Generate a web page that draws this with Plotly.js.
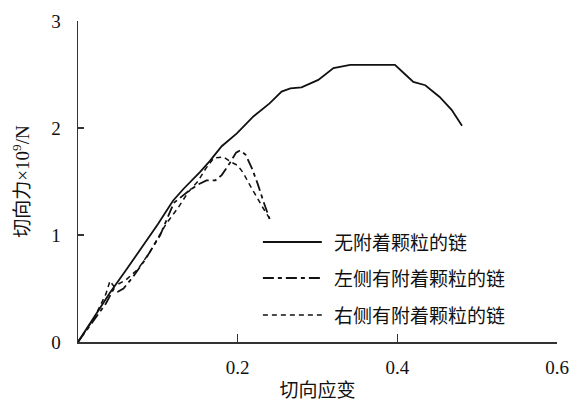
<!DOCTYPE html>
<html>
<head>
<meta charset="utf-8">
<script src="https://cdn.plot.ly/plotly-3.0.1.min.js"></script>
<style>html,body{margin:0;padding:0;background:#fff;}#chart{width:572px;height:401px;}</style>
</head>
<body>
<div id="chart"></div>
<script>
// Series names
const seriesNames = ["无附着颗粒的链", "左侧有附着颗粒的链", "右侧有附着颗粒的链"];

// 无附着颗粒的链 (solid)
const strainA = [0, 0.02, 0.04, 0.06, 0.08, 0.10, 0.119, 0.132, 0.153, 0.165, 0.180, 0.199, 0.220, 0.240, 0.255, 0.266, 0.280, 0.301, 0.320, 0.341, 0.360, 0.380, 0.397, 0.410, 0.420, 0.435, 0.453, 0.468, 0.481];
const forceA  = [0, 0.23, 0.46, 0.67, 0.88, 1.10, 1.32, 1.43, 1.59, 1.69, 1.83, 1.95, 2.11, 2.23, 2.34, 2.37, 2.38, 2.45, 2.56, 2.59, 2.59, 2.59, 2.59, 2.50, 2.43, 2.40, 2.29, 2.17, 2.02];

// 左侧有附着颗粒的链 (dash-dot)
const strainB = [0, 0.02, 0.035, 0.045, 0.050, 0.057, 0.068, 0.085, 0.103, 0.120, 0.140, 0.150, 0.161, 0.172, 0.180, 0.190, 0.198, 0.203, 0.210, 0.218, 0.225, 0.232, 0.240];
const forceB  = [0, 0.20, 0.36, 0.50, 0.47, 0.50, 0.60, 0.78, 1.00, 1.30, 1.42, 1.47, 1.51, 1.51, 1.56, 1.67, 1.77, 1.79, 1.75, 1.62, 1.48, 1.32, 1.15];

// 右侧有附着颗粒的链 (short dash)
const strainC = [0, 0.02, 0.035, 0.040, 0.045, 0.060, 0.075, 0.090, 0.110, 0.125, 0.138, 0.150, 0.160, 0.170, 0.182, 0.192, 0.200, 0.207, 0.215, 0.224, 0.232, 0.242];
const forceC  = [0, 0.22, 0.45, 0.57, 0.52, 0.58, 0.68, 0.84, 1.10, 1.25, 1.40, 1.50, 1.62, 1.72, 1.73, 1.68, 1.65, 1.58, 1.47, 1.35, 1.25, 1.13];

// Axis ticks
const xTickVals = [0.2, 0.4, 0.6];
const xTickText = ["0.2", "0.4", "0.6"];
const yTickVals = [0, 1, 2, 3];
const yTickText = ["0", "1", "2", "3"];

const FONT = "'Liberation Serif', 'Times New Roman', 'Noto Sans CJK SC', serif";
const dashes = ["solid", "11px,4px,4px,4px", "5px,4px"];
const widths = [1.8, 1.8, 1.5];

const xs = [strainA, strainB, strainC];
const ys = [forceA, forceB, forceC];

const traces = xs.map((x, i) => ({
  x: x, y: ys[i], type: "scatter", mode: "lines", name: seriesNames[i],
  line: {color: "#111", width: widths[i], dash: dashes[i]},
  showlegend: false
}));

// Hand-made legend (line samples + labels), in paper coordinates
const legendRowsY = [0.3115, 0.1994, 0.0841];
const shapes = legendRowsY.map((yy, i) => ({
  type: "line", xref: "paper", yref: "paper",
  x0: 0.386, x1: 0.509, y0: yy, y1: yy,
  line: {color: "#111", width: widths[i], dash: dashes[i]}
}));
const annotations = legendRowsY.map((yy, i) => ({
  xref: "paper", yref: "paper", x: 0.530, y: yy - 0.006,
  xanchor: "left", yanchor: "middle", showarrow: false,
  text: seriesNames[i], font: {family: FONT, size: 19, color: "#111"}
}));

const layout = {
  width: 572, height: 401,
  margin: {l: 78, r: 15, t: 21, b: 59},
  paper_bgcolor: "#fff", plot_bgcolor: "#fff",
  font: {family: FONT, size: 19, color: "#111"},
  xaxis: {
    range: [0, 0.6], tickvals: xTickVals, ticktext: xTickText,
    showgrid: false, zeroline: false, showline: true, linecolor: "#333", linewidth: 1.5,
    ticks: "inside", ticklen: 8, tickwidth: 1.3, tickcolor: "#333",
    ticklabelstandoff: 8,
    title: {text: "切向应变", font: {family: FONT, size: 19}, standoff: 12}
  },
  yaxis: {
    range: [0, 3], tickvals: yTickVals, ticktext: yTickText,
    showgrid: false, zeroline: false, showline: true, linecolor: "#333", linewidth: 1.5,
    ticks: "inside", ticklen: 6, tickwidth: 1.3, tickcolor: "#333",
    ticklabelstandoff: 12,
    title: {text: "切向力×10<sup>9</sup>/N", font: {family: FONT, size: 19}, standoff: 16}
  },
  shapes: shapes,
  annotations: annotations
};

Plotly.newPlot("chart", traces, layout, {displayModeBar: false, staticPlot: true});
</script>
</body>
</html>
